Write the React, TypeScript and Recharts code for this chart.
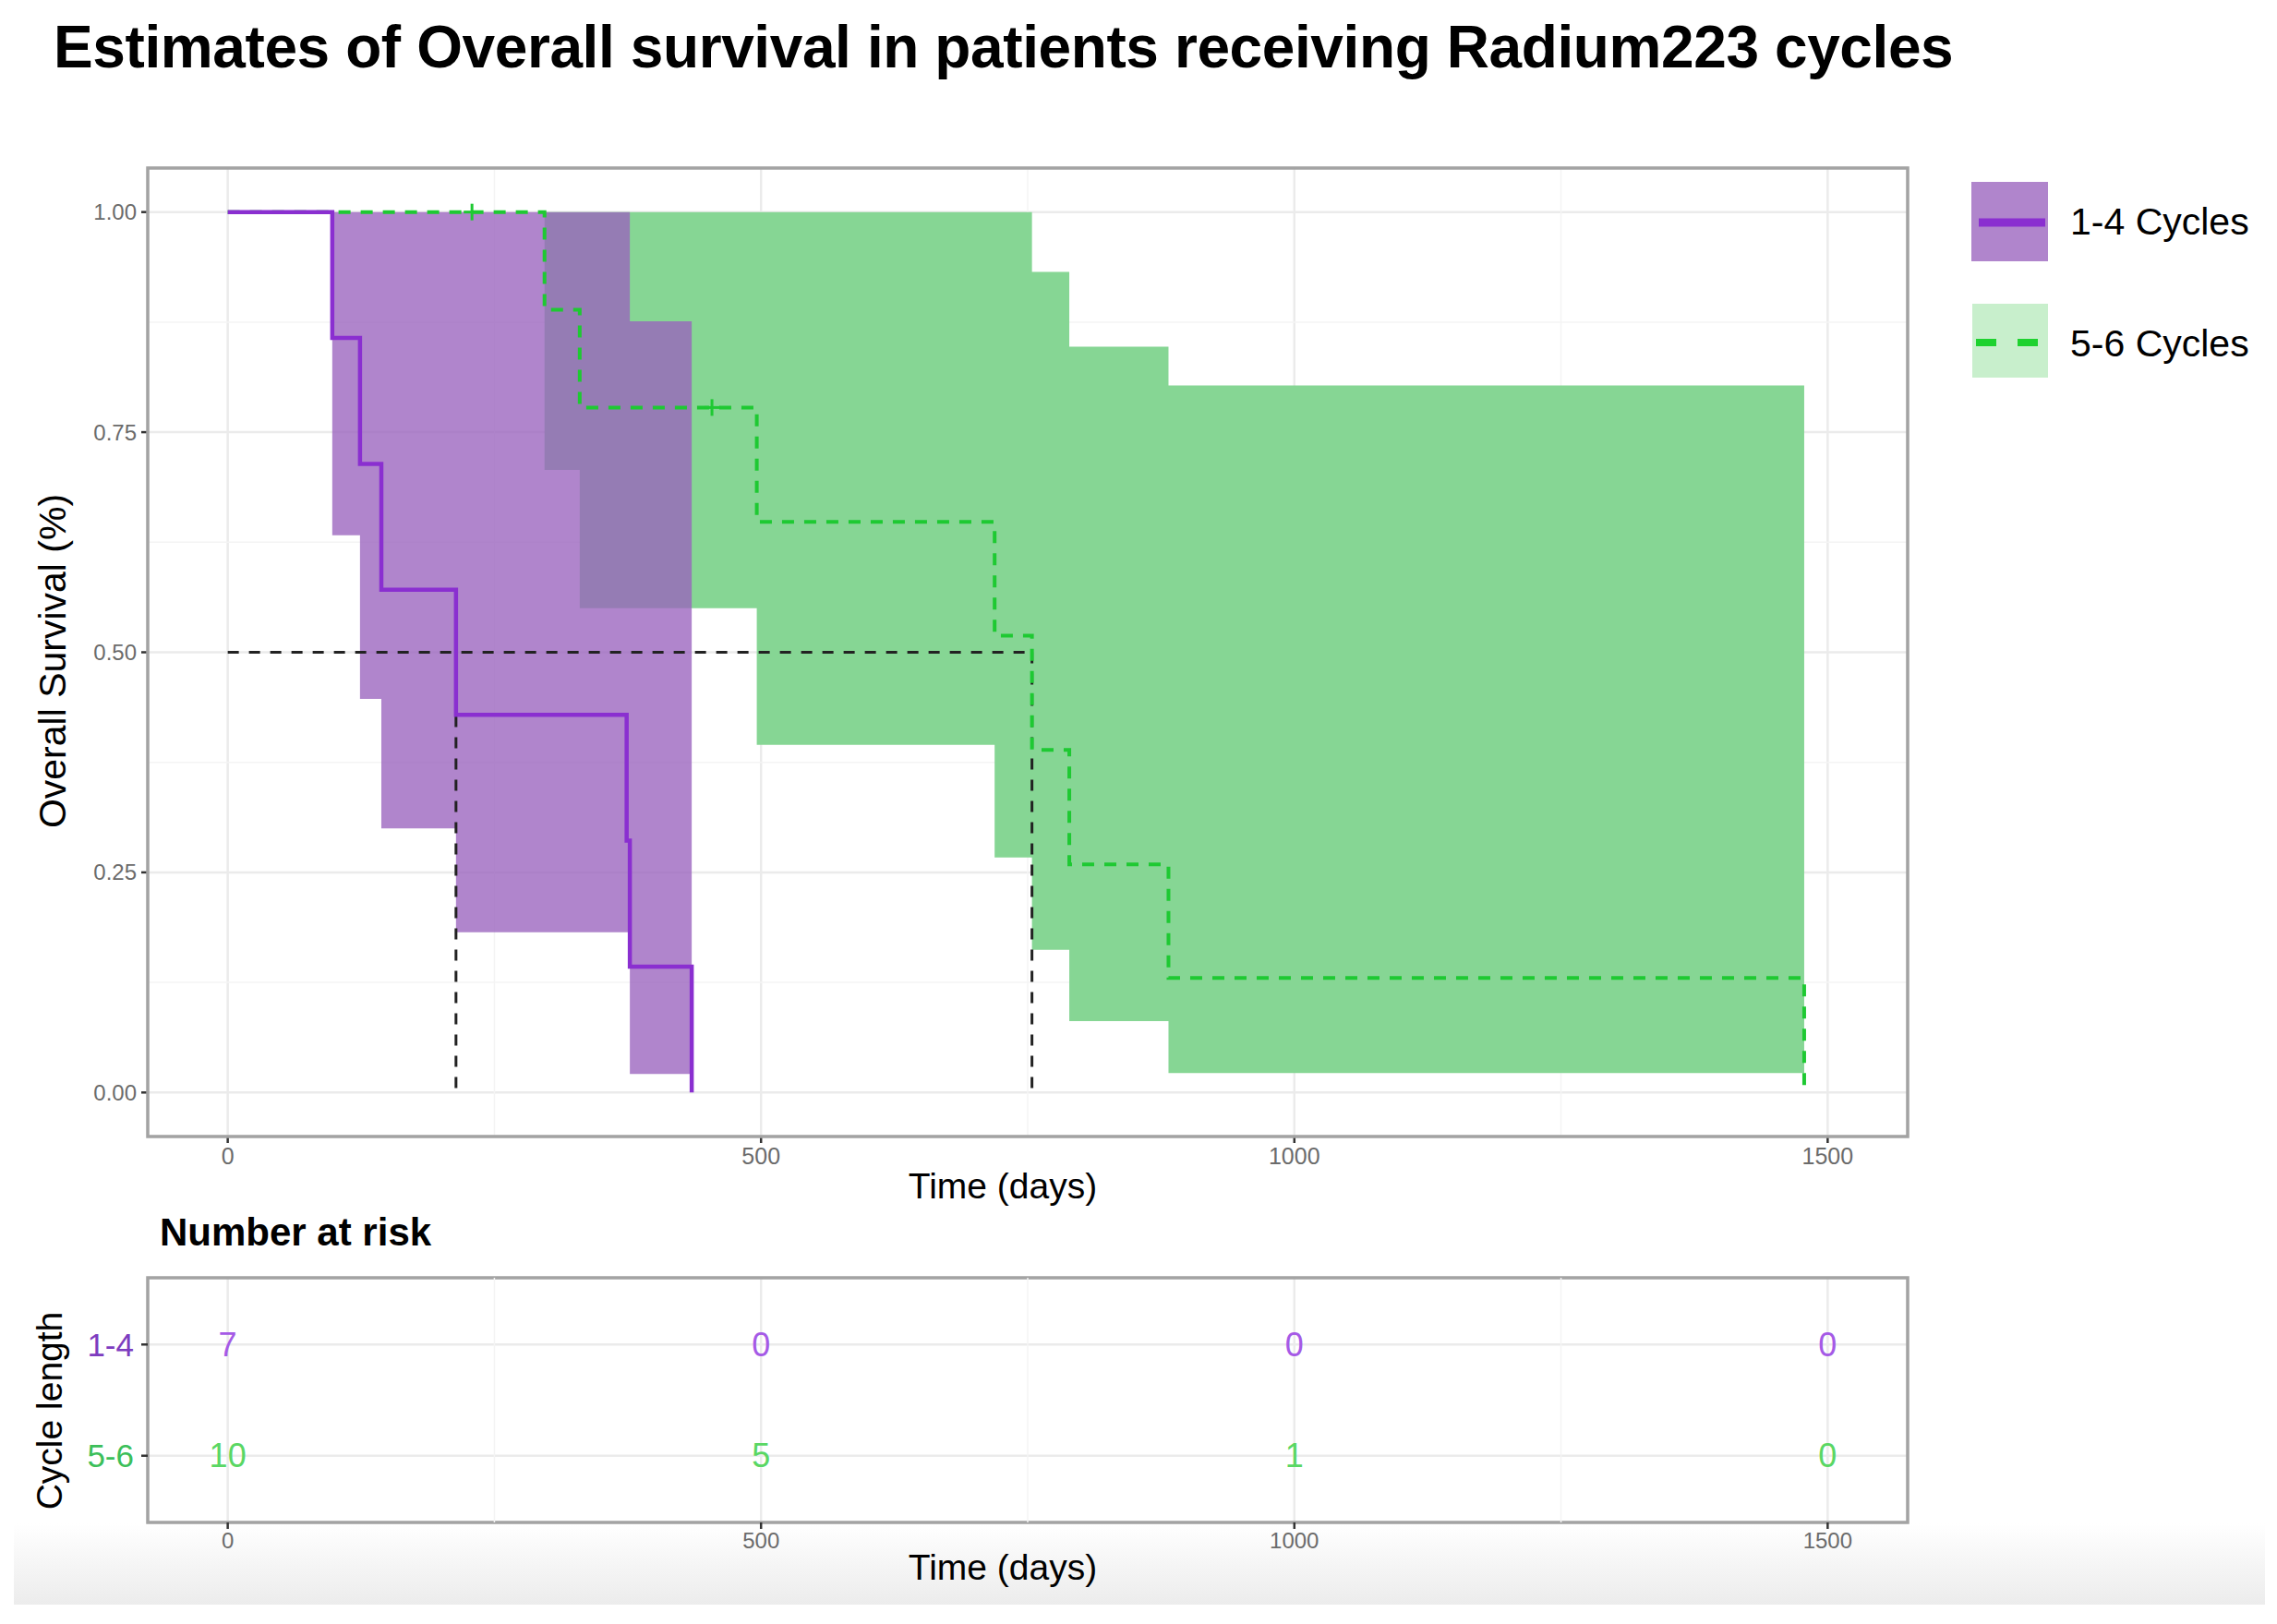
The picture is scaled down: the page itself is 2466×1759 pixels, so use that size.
import React from 'react';
import {
  ComposedChart,
  Area,
  Line,
  Scatter,
  XAxis,
  YAxis,
  CartesianGrid,
  ReferenceLine,
  ReferenceArea,
} from 'recharts';

const FONT = '"Liberation Sans", Arial, Helvetica, sans-serif';

// Kaplan-Meier estimate, 1-4 cycles (n = 7)
const c14Times = [0, 98, 124, 144, 214, 374, 377, 435];
const c14Surv = [1, 0.857, 0.714, 0.571, 0.429, 0.286, 0.143, 0];
const c14Lower = [1, 0.633, 0.447, 0.3, 0.182, 0.182, 0.021, 0.021];
const c14Upper = [1, 1, 1, 1, 1, 1, 0.876, 0.876];

// Kaplan-Meier estimate, 5-6 cycles (n = 10)
const c56Times = [0, 297, 330, 496, 719, 754, 789, 882, 1478];
const c56Surv = [1, 0.889, 0.778, 0.648, 0.519, 0.389, 0.259, 0.13, 0];
const c56Lower = [1, 0.707, 0.55, 0.395, 0.267, 0.162, 0.081, 0.022, 0.022];
const c56Upper = [1, 1, 1, 1, 1, 0.932, 0.847, 0.803, 0.803];

// censored observations (5-6 cycles)
const c56CensorTimes = [229, 454];
const c56CensorSurv = [1, 0.778];

// median survival
const medianLevel = 0.5;
const medianTimes = [214, 754];

// axes
const xTicks = [0, 500, 1000, 1500];
const xMinor = [250, 750, 1250];
const yTicks = [0, 0.25, 0.5, 0.75, 1];
const yMinor = [0.125, 0.375, 0.625, 0.875];

// number at risk table
const riskGroups = ['1-4', '5-6'];
const riskRowY = [2, 1];
const riskTimes = [0, 500, 1000, 1500];
const risk14 = [7, 0, 0, 0];
const risk56 = [10, 5, 1, 0];

const PURPLE_LINE = '#8a2fd0';
const PURPLE_FILL = '#9a63be';
const GREEN_LINE = '#1ec932';
const GREEN_FILL = '#86d694';
const GRID = '#ebebeb';
const MINOR = '#f4f4f4';
const BORDER = '#a3a3a3';
const TICK_TEXT = '#6b6b6b';

const X_DOMAIN: [number, number] = [-75, 1575];
const Y_DOMAIN: [number, number] = [-0.05, 1.05];
const MAIN_MARGIN = { top: 182, right: 400, bottom: 10, left: 60 };

const c14Band = c14Times.map((t, i) => ({ t, ci: [c14Lower[i], c14Upper[i]] }));
const c14Curve = c14Times.map((t, i) => ({ t, s: c14Surv[i] }));
const c56Band = c56Times.map((t, i) => ({ t, ci: [c56Lower[i], c56Upper[i]] }));
const c56Curve = c56Times.map((t, i) => ({ t, s: c56Surv[i] }));
const c56Censor = c56CensorTimes.map((t, i) => ({ t, s: c56CensorSurv[i] }));

const medianH = [
  { t: 0, s: medianLevel },
  { t: Math.max(...medianTimes), s: medianLevel },
];
const medianV = medianTimes.map((t) => [
  { t, s: medianLevel },
  { t, s: 0 },
]);

const riskRows = [risk14, risk56].map((vals, g) =>
  riskTimes.map((t, i) => ({ t, y: riskRowY[g], n: vals[i] }))
);
const riskTextColors = ['#a55ae6', '#5ad764'];
const riskLabelColors = ['#7d3cbf', '#3cbf5a'];

const PlusMark = (props: any) => {
  const { cx, cy } = props;
  if (cx == null || cy == null) return null;
  return (
    <g stroke={GREEN_LINE} strokeWidth={3}>
      <line x1={cx - 9} y1={cy} x2={cx + 9} y2={cy} />
      <line x1={cx} y1={cy - 9} x2={cx} y2={cy + 9} />
    </g>
  );
};

const RiskNumber = (color: string) => (props: any) => {
  const { cx, cy, payload } = props;
  if (cx == null || cy == null) return null;
  return (
    <text
      x={cx}
      y={cy}
      textAnchor="middle"
      dominantBaseline="central"
      fill={color}
      fontSize={36}
      fontFamily={FONT}
    >
      {payload.n}
    </text>
  );
};

const RiskTick = (props: any) => {
  const { x, y, payload } = props;
  const idx = riskRowY.indexOf(payload.value);
  if (idx < 0) return null;
  return (
    <text
      x={x}
      y={y}
      textAnchor="end"
      dominantBaseline="central"
      fill={riskLabelColors[idx]}
      fontSize={35}
      fontFamily={FONT}
    >
      {riskGroups[idx]}
    </text>
  );
};

const abs = (style: React.CSSProperties): React.CSSProperties => ({
  position: 'absolute',
  fontFamily: FONT,
  color: '#000',
  whiteSpace: 'nowrap',
  ...style,
});

// the survival panel is drawn in two stacked layers so the grid stays behind the bands
function SurvivalGrid() {
  return (
    <ComposedChart width={2466} height={1281} margin={MAIN_MARGIN}>
      <CartesianGrid stroke={GRID} strokeWidth={2.5} />
      {xMinor.map((v) => (
        <ReferenceLine key={'xm' + v} x={v} stroke={MINOR} strokeWidth={1.5} />
      ))}
      {yMinor.map((v) => (
        <ReferenceLine key={'ym' + v} y={v} stroke={MINOR} strokeWidth={1.5} />
      ))}
      <XAxis
        dataKey="t"
        type="number"
        domain={X_DOMAIN}
        ticks={xTicks}
        allowDataOverflow
        axisLine={false}
        tickLine={{ stroke: '#333', strokeWidth: 2.5 }}
        tickSize={7}
        tickMargin={5}
        height={40}
        tick={{ fill: TICK_TEXT, fontSize: 25, fontFamily: FONT }}
      />
      <YAxis
        type="number"
        domain={Y_DOMAIN}
        ticks={yTicks}
        allowDataOverflow
        axisLine={false}
        tickLine={{ stroke: '#333', strokeWidth: 2.5 }}
        tickSize={7}
        tickMargin={5}
        width={100}
        tickFormatter={(v: number) => v.toFixed(2)}
        tick={{ fill: TICK_TEXT, fontSize: 24, fontFamily: FONT }}
      />
    </ComposedChart>
  );
}

function SurvivalSeries() {
  return (
    <ComposedChart width={2466} height={1281} margin={MAIN_MARGIN}>
      <XAxis
        dataKey="t"
        type="number"
        domain={X_DOMAIN}
        ticks={xTicks}
        allowDataOverflow
        axisLine={false}
        tickLine={false}
        tick={false}
        height={40}
      />
      <YAxis
        type="number"
        domain={Y_DOMAIN}
        ticks={yTicks}
        allowDataOverflow
        axisLine={false}
        tickLine={false}
        tick={false}
        width={100}
      />
      <Area
        data={c56Band}
        dataKey="ci"
        type="stepAfter"
        stroke="none"
        fill={GREEN_FILL}
        fillOpacity={1}
        isAnimationActive={false}
      />
      <Line
        data={medianH}
        dataKey="s"
        type="linear"
        stroke="#222"
        strokeWidth={3}
        strokeDasharray="12 11"
        dot={false}
        activeDot={false}
        isAnimationActive={false}
      />
      {medianV.map((d, i) => (
        <Line
          key={'mv' + i}
          data={d}
          dataKey="s"
          type="linear"
          stroke="#222"
          strokeWidth={3}
          strokeDasharray="12 11"
          dot={false}
          activeDot={false}
          isAnimationActive={false}
        />
      ))}
      <Line
        data={c56Curve}
        dataKey="s"
        type="stepAfter"
        stroke={GREEN_LINE}
        strokeWidth={4}
        strokeDasharray="13 11"
        dot={false}
        activeDot={false}
        isAnimationActive={false}
      />
      <Area
        data={c14Band}
        dataKey="ci"
        type="stepAfter"
        stroke="none"
        fill={PURPLE_FILL}
        fillOpacity={0.78}
        isAnimationActive={false}
      />
      <Line
        data={c14Curve}
        dataKey="s"
        type="stepAfter"
        stroke={PURPLE_LINE}
        strokeWidth={4.5}
        dot={false}
        activeDot={false}
        isAnimationActive={false}
      />
      <Scatter data={c56Censor} dataKey="s" shape={PlusMark} isAnimationActive={false} />
      <ReferenceArea
        x1={X_DOMAIN[0]}
        x2={X_DOMAIN[1]}
        y1={Y_DOMAIN[0]}
        y2={Y_DOMAIN[1]}
        fill="none"
        fillOpacity={0}
        stroke={BORDER}
        strokeWidth={3.5}
      />
    </ComposedChart>
  );
}

function RiskTable() {
  return (
    <ComposedChart width={2466} height={420} margin={{ top: 84, right: 400, bottom: 31, left: 60 }}>
      <CartesianGrid stroke={GRID} strokeWidth={2.5} />
      {xMinor.map((v) => (
        <ReferenceLine key={'rxm' + v} x={v} stroke={MINOR} strokeWidth={1.5} />
      ))}
      <XAxis
        dataKey="t"
        type="number"
        domain={X_DOMAIN}
        ticks={xTicks}
        allowDataOverflow
        axisLine={false}
        tickLine={{ stroke: '#333', strokeWidth: 2.5 }}
        tickSize={7}
        tickMargin={4}
        height={40}
        tick={{ fill: TICK_TEXT, fontSize: 24, fontFamily: FONT }}
      />
      <YAxis
        dataKey="y"
        type="number"
        domain={[0.4, 2.6]}
        ticks={[1, 2]}
        allowDataOverflow
        axisLine={false}
        tickLine={{ stroke: '#333', strokeWidth: 2.5 }}
        tickSize={7}
        tickMargin={8}
        width={100}
        tick={RiskTick}
      />
      {riskRows.map((rows, g) => (
        <Scatter
          key={'risk' + g}
          data={rows}
          dataKey="y"
          shape={RiskNumber(riskTextColors[g])}
          isAnimationActive={false}
        />
      ))}
      <ReferenceArea
        x1={X_DOMAIN[0]}
        x2={X_DOMAIN[1]}
        y1={0.4}
        y2={2.6}
        fill="none"
        fillOpacity={0}
        stroke={BORDER}
        strokeWidth={3.5}
      />
    </ComposedChart>
  );
}

export default function App() {
  return (
    <div style={{ position: 'absolute', left: 0, top: 0, width: 2466, height: 1759, background: '#fff', overflow: 'hidden' }}>
      <div
        style={{
          position: 'absolute',
          left: 15,
          top: 1650,
          width: 2438,
          height: 88,
          background: 'linear-gradient(to bottom, #ffffff, #ececec)',
        }}
      />

      <div style={abs({ left: 58, top: 19, fontSize: 64, fontWeight: 700, lineHeight: 1, letterSpacing: -0.4 })}>
        Estimates of Overall survival in patients receiving Radium223 cycles
      </div>

      <div style={{ position: 'absolute', left: 0, top: 0 }}>
        <SurvivalGrid />
      </div>
      <div style={{ position: 'absolute', left: 0, top: 0 }}>
        <SurvivalSeries />
      </div>

      <div style={abs({ left: 1086, top: 1284, fontSize: 39, lineHeight: 1, transform: 'translate(-50%, -50%)' })}>
        Time (days)
      </div>
      <div
        style={abs({
          left: 57,
          top: 716,
          fontSize: 41,
          lineHeight: 1,
          transform: 'translate(-50%, -50%) rotate(-90deg)',
        })}
      >
        Overall Survival (%)
      </div>

      <div style={{ position: 'absolute', left: 2135, top: 197, fontFamily: FONT }}>
        <div style={{ position: 'relative', height: 86 }}>
          <svg width={83} height={86} style={{ position: 'absolute', left: 0, top: 0 }}>
            <rect x={0} y={0} width={83} height={86} fill="#b085cc" />
            <line x1={8} y1={44} x2={80} y2={44} stroke={PURPLE_LINE} strokeWidth={9} />
          </svg>
          <div style={abs({ left: 107, top: 43, fontSize: 41, lineHeight: 1, transform: 'translateY(-50%)' })}>
            1-4 Cycles
          </div>
        </div>
        <div style={{ position: 'relative', height: 80, marginTop: 46 }}>
          <svg width={82} height={80} style={{ position: 'absolute', left: 1, top: 0 }}>
            <rect x={0} y={0} width={82} height={80} fill="#c8efcc" />
            <line x1={4} y1={42} x2={72} y2={42} stroke="#1ed22f" strokeWidth={8} strokeDasharray="22 23" />
          </svg>
          <div style={abs({ left: 107, top: 43, fontSize: 41, lineHeight: 1, transform: 'translateY(-50%)' })}>
            5-6 Cycles
          </div>
        </div>
      </div>

      <div style={abs({ left: 173, top: 1314, fontSize: 42, fontWeight: 700, lineHeight: 1 })}>Number at risk</div>

      <div style={{ position: 'absolute', left: 0, top: 1300 }}>
        <RiskTable />
      </div>

      <div style={abs({ left: 1086, top: 1697, fontSize: 39, lineHeight: 1, transform: 'translate(-50%, -50%)' })}>
        Time (days)
      </div>
      <div
        style={abs({
          left: 53,
          top: 1528,
          fontSize: 39,
          lineHeight: 1,
          transform: 'translate(-50%, -50%) rotate(-90deg)',
        })}
      >
        Cycle length
      </div>
    </div>
  );
}
